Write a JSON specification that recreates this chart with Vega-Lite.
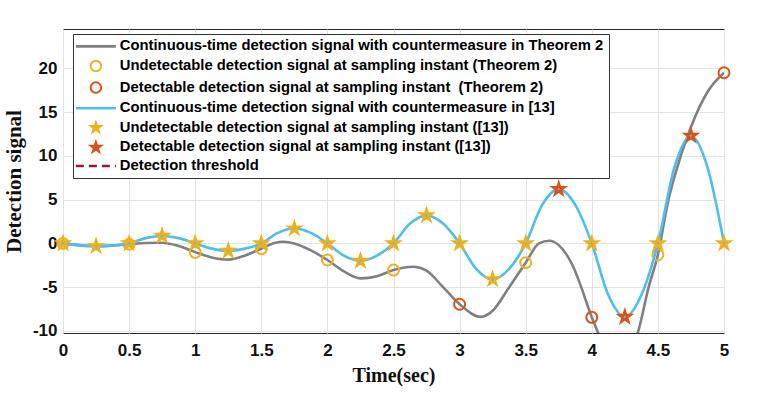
{
  "$schema": "https://vega.github.io/schema/vega-lite/v6.json",
  "width": 661,
  "height": 304,
  "autosize": {"type": "none"},
  "padding": {"left": 63, "top": 29, "right": 34, "bottom": 64},
  "background": "white",
  "view": {"stroke": "#262626", "strokeWidth": 1},
  "config": {
    "axis": {
      "domain": false,
      "ticks": false,
      "grid": true,
      "gridColor": "#e3e3e3",
      "gridWidth": 1,
      "labelFont": "Liberation Sans",
      "labelFontWeight": "bold",
      "labelFontSize": 17,
      "labelColor": "#111111",
      "titleFont": "Liberation Serif",
      "titleFontWeight": "bold",
      "titleFontSize": 20,
      "titleColor": "#111111"
    }
  },
  "datasets": {
    "gray": [
      {"t": 0, "v": 0}, {"t": 0.125, "v": -0.2}, {"t": 0.25, "v": -0.33}, {"t": 0.375, "v": -0.25},
      {"t": 0.5, "v": -0.1}, {"t": 0.625, "v": 0.05}, {"t": 0.75, "v": 0.08}, {"t": 0.875, "v": -0.3},
      {"t": 1.0, "v": -1.0}, {"t": 1.125, "v": -1.6}, {"t": 1.25, "v": -1.85}, {"t": 1.375, "v": -1.4},
      {"t": 1.5, "v": -0.6}, {"t": 1.6, "v": 0.05}, {"t": 1.67, "v": 0.18}, {"t": 1.75, "v": 0.0},
      {"t": 1.875, "v": -0.8}, {"t": 2.0, "v": -1.9}, {"t": 2.125, "v": -3.2}, {"t": 2.25, "v": -4.0},
      {"t": 2.375, "v": -3.75}, {"t": 2.5, "v": -3.05}, {"t": 2.65, "v": -2.67}, {"t": 2.75, "v": -3.1},
      {"t": 2.875, "v": -5.0}, {"t": 3.0, "v": -6.95}, {"t": 3.16, "v": -8.4}, {"t": 3.25, "v": -7.7},
      {"t": 3.375, "v": -5.0}, {"t": 3.5, "v": -2.2}, {"t": 3.6, "v": 0.0}, {"t": 3.68, "v": 0.3},
      {"t": 3.75, "v": -0.2}, {"t": 3.875, "v": -3.2}, {"t": 3.92, "v": -5.0}, {"t": 4.0, "v": -8.45},
      {"t": 4.05, "v": -10.3}, {"t": 4.1, "v": -12.0}, {"t": 4.2, "v": -13.3}, {"t": 4.3, "v": -12.0},
      {"t": 4.35, "v": -10.1}, {"t": 4.43, "v": -5.0}, {"t": 4.5, "v": -1.3}, {"t": 4.58, "v": 5.0},
      {"t": 4.625, "v": 7.6}, {"t": 4.75, "v": 13.3}, {"t": 4.875, "v": 17.3}, {"t": 5.0, "v": 19.5}
    ],
    "blue": [
      {"t": 0, "v": 0}, {"t": 0.125, "v": -0.23}, {"t": 0.25, "v": -0.33}, {"t": 0.375, "v": -0.23},
      {"t": 0.5, "v": 0}, {"t": 0.625, "v": 0.6}, {"t": 0.75, "v": 0.85}, {"t": 0.875, "v": 0.6},
      {"t": 1.0, "v": 0}, {"t": 1.125, "v": -0.6}, {"t": 1.25, "v": -0.85}, {"t": 1.375, "v": -0.6},
      {"t": 1.5, "v": 0}, {"t": 1.625, "v": 1.2}, {"t": 1.75, "v": 1.7}, {"t": 1.875, "v": 1.2},
      {"t": 2.0, "v": 0}, {"t": 2.125, "v": -1.4}, {"t": 2.25, "v": -2.0}, {"t": 2.375, "v": -1.4},
      {"t": 2.5, "v": 0}, {"t": 2.625, "v": 2.26}, {"t": 2.75, "v": 3.2}, {"t": 2.875, "v": 2.26},
      {"t": 3.0, "v": 0}, {"t": 3.125, "v": -2.9}, {"t": 3.25, "v": -4.1}, {"t": 3.375, "v": -2.9},
      {"t": 3.5, "v": 0}, {"t": 3.625, "v": 4.4}, {"t": 3.75, "v": 6.2}, {"t": 3.875, "v": 4.4},
      {"t": 4.0, "v": 0}, {"t": 4.125, "v": -5.9}, {"t": 4.25, "v": -8.4}, {"t": 4.375, "v": -5.9},
      {"t": 4.5, "v": 0}, {"t": 4.625, "v": 8.7}, {"t": 4.75, "v": 12.3}, {"t": 4.875, "v": 8.7},
      {"t": 5.0, "v": 0}
    ],
    "circles": [
      {"t": 0, "v": 0, "s": "b"}, {"t": 0.5, "v": -0.1, "s": "b"}, {"t": 1.0, "v": -1.03, "s": "b"},
      {"t": 1.5, "v": -0.6, "s": "b"}, {"t": 2.0, "v": -1.9, "s": "b"}, {"t": 2.5, "v": -3.05, "s": "b"},
      {"t": 3.0, "v": -6.95, "s": "c"}, {"t": 3.5, "v": -2.2, "s": "b"}, {"t": 4.0, "v": -8.45, "s": "c"},
      {"t": 4.5, "v": -1.3, "s": "b"}, {"t": 5.0, "v": 19.5, "s": "c"}
    ],
    "stars": [
      {"t": 0, "v": 0, "s": "e"}, {"t": 0.25, "v": -0.33, "s": "e"}, {"t": 0.5, "v": 0, "s": "e"},
      {"t": 0.75, "v": 0.85, "s": "e"}, {"t": 1.0, "v": 0, "s": "e"}, {"t": 1.25, "v": -0.85, "s": "e"},
      {"t": 1.5, "v": 0, "s": "e"}, {"t": 1.75, "v": 1.7, "s": "e"}, {"t": 2.0, "v": 0, "s": "e"},
      {"t": 2.25, "v": -2.0, "s": "e"}, {"t": 2.5, "v": 0, "s": "e"}, {"t": 2.75, "v": 3.2, "s": "e"},
      {"t": 3.0, "v": 0, "s": "e"}, {"t": 3.25, "v": -4.1, "s": "e"}, {"t": 3.5, "v": 0, "s": "e"},
      {"t": 3.75, "v": 6.2, "s": "f"}, {"t": 4.0, "v": 0, "s": "e"}, {"t": 4.25, "v": -8.4, "s": "f"},
      {"t": 4.5, "v": 0, "s": "e"}, {"t": 4.75, "v": 12.3, "s": "f"}, {"t": 5.0, "v": 0, "s": "e"}
    ],
    "thr": [{"v": 5}, {"v": -5}]
  },
  "encoding": {
    "x": {
      "field": "t", "type": "quantitative",
      "scale": {"domain": [0, 5], "nice": false, "zero": false},
      "axis": {"values": [0, 0.5, 1, 1.5, 2, 2.5, 3, 3.5, 4, 4.5, 5], "labelExpr": "datum.value + ''", "title": "Time(sec)", "labelPadding": 9, "titlePadding": 7, "labelFlush": false}
    },
    "y": {
      "field": "v", "type": "quantitative",
      "scale": {"domain": [-10.24, 24.5], "nice": false, "zero": false},
      "axis": {"values": [-10, -5, 0, 5, 10, 15, 20], "labelExpr": "datum.value + ''", "title": "Detection signal", "titleFontSize": 21, "labelPadding": 6, "titlePadding": 8}
    }
  },
  "layer": [
    {
      "data": {"name": "gray"},
      "mark": {"type": "line", "interpolate": "monotone", "strokeWidth": 2.6, "clip": true},
      "encoding": {
        "color": {
          "datum": "a",
          "title": null,
          "scale": {
            "domain": ["a", "b", "c", "d", "e", "f", "g"],
            "range": ["#808080", "#EDB120", "#D95319", "#4DBEEE", "#EDB120", "#D95319", "#A2142F"]
          },
          "legend": {
            "title": null,
            "orient": "none",
            "legendX": 10,
            "legendY": 5,
            "padding": 5,
            "fillColor": "white",
            "strokeColor": "#333333",
            "cornerRadius": 0,
            "symbolSize": 225,
            "symbolOffset": 10.5,
            "labelOffset": 16.5,
            "rowPadding": 2.6,
            "labelFont": "Liberation Sans",
            "labelFontWeight": "bold",
            "labelFontSize": 14.8,
            "labelColor": "#000000",
            "labelLimit": 800,
            "labelExpr": "datum.value === 'a' ? 'Continuous-time detection signal with countermeasure in Theorem 2' : datum.value === 'b' ? 'Undetectable detection signal at sampling instant (Theorem 2)' : datum.value === 'c' ? 'Detectable detection signal at sampling instant\u00a0 (Theorem 2)' : datum.value === 'd' ? 'Continuous-time detection signal with countermeasure in [13]' : datum.value === 'e' ? 'Undetectable detection signal at sampling instant ([13])' : datum.value === 'f' ? 'Detectable detection signal at sampling instant ([13])' : 'Detection threshold'",
            "encode": {
              "symbols": {
                "update": {
                  "shape": {"signal": "indexof(['a','d','g'], datum.value) >= 0 ? 'M-2.67,0H2.67' : (indexof(['b','c'], datum.value) >= 0 ? 'circle' : 'M0,-1L0.225,-0.309L0.951,-0.309L0.363,0.118L0.588,0.809L0,0.382L-0.588,0.809L-0.363,0.118L-0.951,-0.309L-0.225,-0.309Z')"},
                  "size": {"signal": "indexof(['a','d','g'], datum.value) >= 0 ? 225 : (indexof(['b','c'], datum.value) >= 0 ? 110 : 300)"},
                  "fill": {"signal": "datum.value === 'e' ? '#EDB120' : datum.value === 'f' ? '#D95319' : 'transparent'"},
                  "fillOpacity": {"signal": "indexof(['e','f'], datum.value) >= 0 ? 1 : 0"},
                  "stroke": {"signal": "datum.value === 'a' ? '#808080' : datum.value === 'b' ? '#EDB120' : datum.value === 'c' ? '#D95319' : datum.value === 'd' ? '#4DBEEE' : datum.value === 'g' ? '#A2142F' : '#ffffff'"},
                  "strokeOpacity": {"signal": "indexof(['e','f'], datum.value) >= 0 ? 0 : 1"},
                  "strokeWidth": {"signal": "indexof(['b','c'], datum.value) >= 0 ? 2 : indexof(['e','f'], datum.value) >= 0 ? 0 : 2.6"},
                  "strokeDash": {"signal": "datum.value === 'g' ? [8, 5] : []"},
                  "opacity": {"value": 1}
                }
              }
            }
          }
        }
      }
    },
    {
      "data": {"name": "circles"},
      "mark": {"type": "point", "shape": "circle", "filled": false, "size": 120, "strokeWidth": 2, "opacity": 1},
      "encoding": {"color": {"field": "s", "type": "nominal", "title": null}}
    },
    {
      "data": {"name": "blue"},
      "mark": {"type": "line", "interpolate": "monotone", "strokeWidth": 2.6, "clip": true},
      "encoding": {"color": {"datum": "d", "title": null}}
    },
    {
      "data": {"name": "stars"},
      "mark": {"type": "point", "shape": "M0,-1L0.225,-0.309L0.951,-0.309L0.363,0.118L0.588,0.809L0,0.382L-0.588,0.809L-0.363,0.118L-0.951,-0.309L-0.225,-0.309Z", "filled": true, "size": 400, "opacity": 1},
      "encoding": {"color": {"field": "s", "type": "nominal", "title": null}}
    },
    {
      "data": {"name": "stars"},
      "mark": {"type": "point", "shape": "circle", "filled": true, "size": 5, "opacity": 1, "color": "#4DBEEE"}
    },
    {
      "data": {"name": "thr"},
      "mark": {"type": "rule", "strokeWidth": 2.2, "strokeDash": [8, 5]},
      "encoding": {"y": {"field": "v", "type": "quantitative"}, "color": {"datum": "g", "title": null}}
    }
  ]
}
